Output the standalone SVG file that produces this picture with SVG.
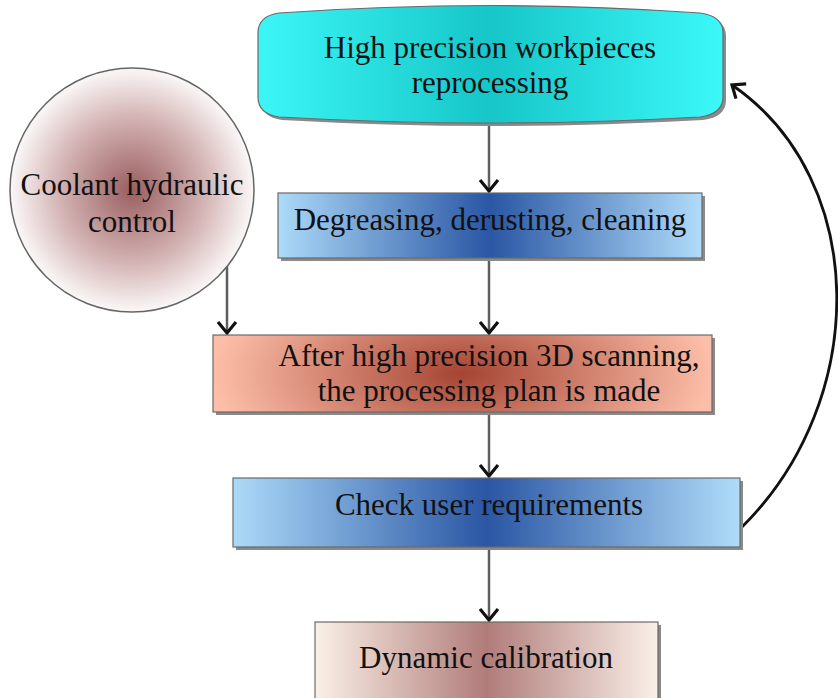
<svg xmlns="http://www.w3.org/2000/svg" width="838" height="698" viewBox="0 0 838 698">
<defs>
<style>
.lbl{font-family:"Liberation Serif","Times New Roman",serif;font-size:31px;fill:#111;text-anchor:middle}
.box{stroke:#6a6a6a;stroke-width:1.2}
.shd{fill:#8a8a8a}
.conn{stroke:#5e5e5e;stroke-width:2.5;fill:none;marker-end:url(#chev)}
.loop{stroke:#111;stroke-width:2.8;fill:none;marker-end:url(#chev)}
</style>
<marker id="chev" markerUnits="userSpaceOnUse" markerWidth="30" markerHeight="30" viewBox="-15 -15 30 30" refX="0" refY="0" orient="auto" overflow="visible">
<path d="M-11,-9 L0,0 L-11,9" fill="none" stroke="#111" stroke-width="3.2" stroke-linejoin="miter"/>
</marker>
<linearGradient id="gCyan" x1="0" y1="0" x2="1" y2="0">
<stop offset="0" stop-color="#3cf6f6"/><stop offset="0.5" stop-color="#16c6c8"/><stop offset="1" stop-color="#3cf8f8"/>
</linearGradient>
<radialGradient id="gCircle" cx="0.5" cy="0.5" r="0.5">
<stop offset="0" stop-color="#9a5e60"/><stop offset="0.6" stop-color="#d4b4b4"/><stop offset="1" stop-color="#fbf8f8"/>
</radialGradient>
<linearGradient id="gBlue" x1="0" y1="0" x2="1" y2="0">
<stop offset="0" stop-color="#acdaf8"/><stop offset="0.5" stop-color="#2a56a4"/><stop offset="1" stop-color="#b0dcfa"/>
</linearGradient>
<radialGradient id="gRed" cx="0.5" cy="0.5" r="0.5" gradientTransform="translate(0.5 0.5) scale(1 3) translate(-0.5 -0.5)">
<stop offset="0" stop-color="#a54433"/><stop offset="1" stop-color="#fcbea8"/>
</radialGradient>
<linearGradient id="gRose" x1="0" y1="0" x2="1" y2="0">
<stop offset="0" stop-color="#faf0e6"/><stop offset="0.5" stop-color="#b07c7a"/><stop offset="1" stop-color="#faf0e8"/>
</linearGradient>
</defs>

<g id="connectors">
<line class="conn" x1="489" y1="121" x2="489" y2="191"/>
<line class="conn" x1="489" y1="258" x2="489" y2="333"/>
<line class="conn" x1="227" y1="266" x2="227" y2="333"/>
<line class="conn" x1="489" y1="412" x2="489" y2="476"/>
<line class="conn" x1="489" y1="548" x2="489" y2="620"/>
<path class="loop" d="M742,527 C870,400 870,180 732,85"/>
</g>

<g id="n-reprocessing">
<path class="shd" d="M261,36 Q261,19 282,16 Q493,1 703,16 Q726,19 726,36 L726,100 Q726,117 703,120 Q493,132 282,120 Q261,117 261,100 Z"/>
<path d="M258,33 Q258,16 279,13 Q490,-2 700,13 Q723,16 723,33 L723,97 Q723,114 700,117 Q490,129 279,117 Q258,114 258,97 Z" fill="url(#gCyan)" class="box"/>
<text class="lbl" x="490" y="58">High precision workpieces</text>
<text class="lbl" x="490" y="93">reprocessing</text>
</g>

<g id="n-coolant">
<circle cx="132" cy="190" r="122" fill="url(#gCircle)" stroke="#666" stroke-width="1.5"/>
<text class="lbl" x="132" y="195">Coolant hydraulic</text>
<text class="lbl" x="132" y="232">control</text>
</g>

<g id="n-degreasing">
<rect class="shd" x="281" y="196" width="424" height="65"/>
<rect class="box" x="278" y="193" width="424" height="65" fill="url(#gBlue)"/>
<text class="lbl" x="490" y="230">Degreasing, derusting, cleaning</text>
</g>

<g id="n-scanning">
<rect class="shd" x="216" y="338" width="499" height="77"/>
<rect class="box" x="213" y="335" width="499" height="77" fill="url(#gRed)"/>
<text class="lbl" x="489" y="366">After high precision 3D scanning,</text>
<text class="lbl" x="489" y="401">the processing plan is made</text>
</g>

<g id="n-check">
<rect class="shd" x="236" y="481" width="507" height="69"/>
<rect class="box" x="233" y="478" width="507" height="69" fill="url(#gBlue)"/>
<text class="lbl" x="489" y="515">Check user requirements</text>
</g>

<g id="n-dynamic">
<rect class="shd" x="318" y="625" width="343" height="80"/>
<rect class="box" x="315" y="622" width="343" height="80" fill="url(#gRose)"/>
<text class="lbl" x="486" y="668">Dynamic calibration</text>
</g>
</svg>
